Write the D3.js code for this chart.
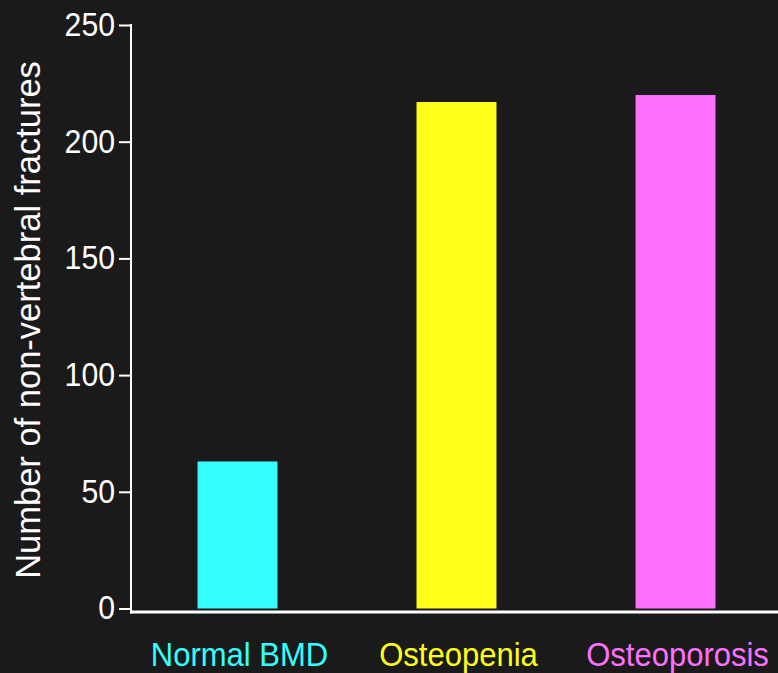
<!DOCTYPE html>
<html>
<head>
<meta charset="utf-8">
<script src="https://cdn.jsdelivr.net/npm/d3@7"></script>
<style>
  html, body { margin: 0; padding: 0; background: #1a1a1a; }
  svg { display: block; }
</style>
</head>
<body>
<svg id="chart" width="778" height="673"></svg>
<script>
const categories = ["Normal BMD", "Osteopenia", "Osteoporosis"];
const values = [63, 217, 220];
const colors = ["#33ffff", "#ffff1a", "#ff70ff"];
const yTicks = [0, 50, 100, 150, 200, 250];
const yTitle = "Number of non-vertebral fractures";

const W = 778, H = 673;
const svg = d3.select("#chart");
svg.append("rect").attr("width", W).attr("height", H).attr("fill", "#1a1a1a");

const font = "'Liberation Sans', Arial, Helvetica, sans-serif";

const y = d3.scaleLinear().domain([0, 250]).range([608.5, 25]);
const x = d3.scaleBand().domain(categories).range([128, 785])
  .paddingInner(0.635).paddingOuter(0.3175);

// bars
svg.append("g").selectAll("rect").data(categories).join("rect")
  .attr("x", d => x(d))
  .attr("width", x.bandwidth())
  .attr("y", (d, i) => y(values[i]))
  .attr("height", (d, i) => y(0) - y(values[i]))
  .attr("fill", (d, i) => colors[i]);

// y axis
const tickScale = 0.93;
const yAxis = svg.append("g").attr("transform", "translate(131,0)")
  .call(d3.axisLeft(y).tickValues(yTicks).tickSize(12).tickPadding(4).tickSizeOuter(0));
yAxis.select(".domain").remove();
yAxis.selectAll(".tick line").attr("stroke", "#ffffff").attr("stroke-width", 2);
yAxis.selectAll(".tick text").attr("fill", "#ffffff")
  .attr("x", -16 / tickScale)
  .attr("transform", `scale(${tickScale},1)`)
  .style("font-family", font).style("font-size", "32.5px");

// axis lines
svg.append("line").attr("x1", 131).attr("x2", 131).attr("y1", 24).attr("y2", 613.5)
  .attr("stroke", "#ffffff").attr("stroke-width", 2);
svg.append("line").attr("x1", 130).attr("x2", W).attr("y1", 612).attr("y2", 612)
  .attr("stroke", "#ffffff").attr("stroke-width", 3);

// category labels
svg.append("g").selectAll("text").data(categories).join("text")
  .attr("transform", d => `translate(${x(d) + x.bandwidth() / 2 + 2},666) scale(0.94,1)`)
  .attr("text-anchor", "middle")
  .attr("fill", (d, i) => colors[i])
  .style("font-family", font).style("font-size", "33px")
  .text(d => d);

// y title
svg.append("text")
  .attr("transform", "translate(40,320) rotate(-90)")
  .attr("text-anchor", "middle")
  .attr("fill", "#ffffff")
  .style("font-family", font).style("font-size", "34.5px")
  .text(yTitle);
</script>
</body>
</html>
